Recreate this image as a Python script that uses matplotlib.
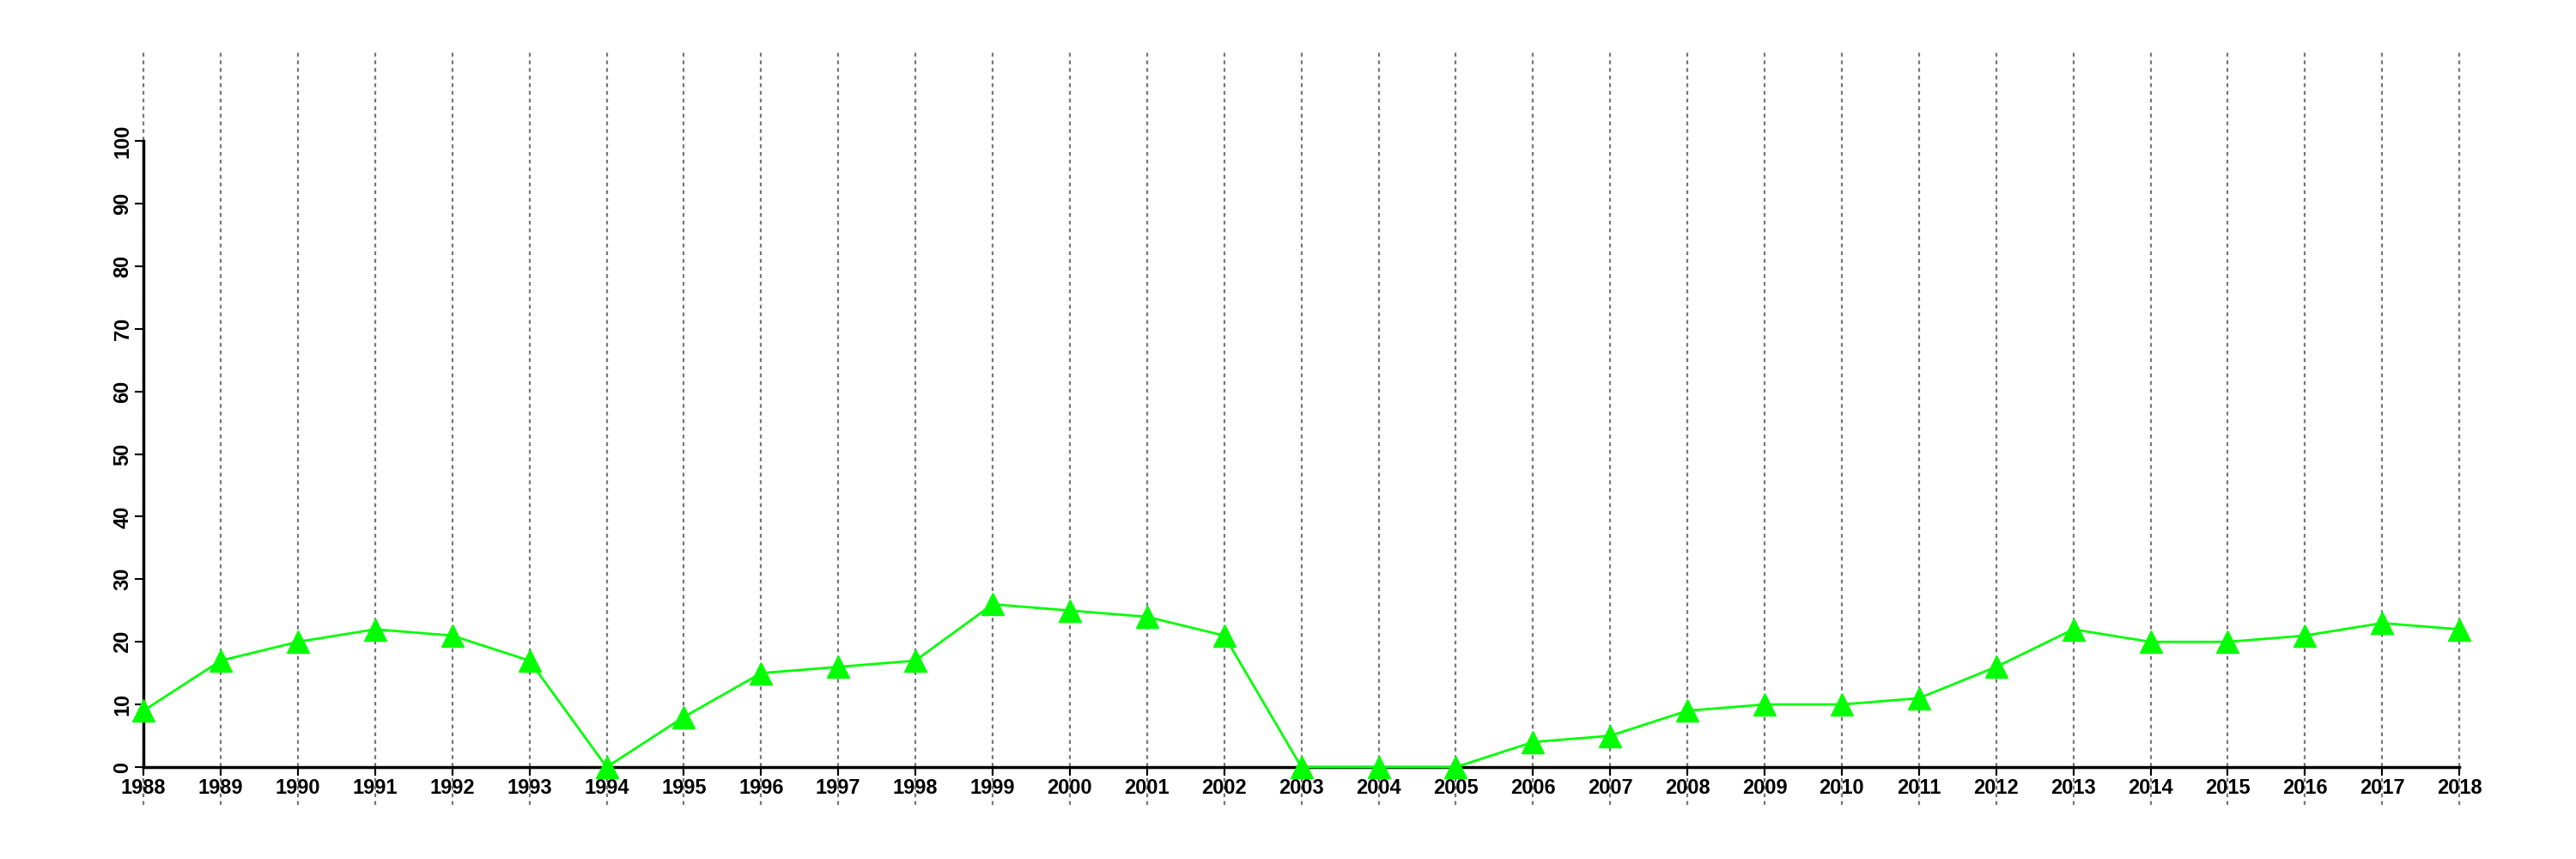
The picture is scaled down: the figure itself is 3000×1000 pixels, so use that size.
import matplotlib.pyplot as plt

years = list(range(1988, 2019))
values = [9, 17, 20, 22, 21, 17, 0, 8, 15, 16, 17, 26, 25, 24, 21,
          0, 0, 0, 4, 5, 9, 10, 10, 11, 16, 22, 20, 20, 21, 23, 22]
yticks = list(range(0, 101, 10))

plt.rcParams['font.family'] = ['Liberation Sans', 'DejaVu Sans']

fig = plt.figure(figsize=(30, 10), dpi=100)
ax = fig.add_axes([0.0557, 0.107, 0.899, 0.729])

# dotted year lines running past the plot area
for yr in years:
    ax.axvline(yr, ymin=-0.06, ymax=1.147, color='#777777', linestyle=(0, (2, 2)),
               linewidth=1.6, clip_on=False, zorder=1)

ax.plot(years, values, color='#00ff00', linewidth=2, marker='^', markersize=19,
        clip_on=False, zorder=3)

ax.set_xlim(1988, 2018)
ax.set_ylim(0, 100)
ax.set_xticks(years)
ax.set_xticklabels([str(y) for y in years], fontsize=17, fontweight='bold')
ax.set_yticks(yticks)
ax.set_yticklabels([str(v) for v in yticks], fontsize=17, fontweight='bold',
                   rotation=90, va='center')

for s in ['top', 'right']:
    ax.spines[s].set_visible(False)
ax.spines['left'].set_linewidth(2.5)
ax.spines['bottom'].set_linewidth(2.5)
ax.tick_params(axis='both', length=7, width=1.5, pad=2)

fig.savefig('out.png', dpi=100)
